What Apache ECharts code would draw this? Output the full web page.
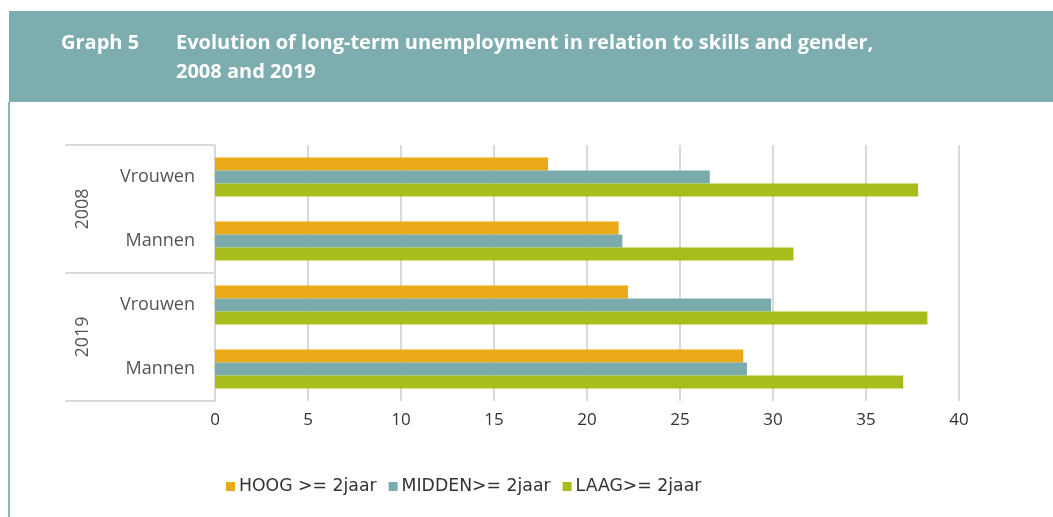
<!DOCTYPE html>
<html>
<head>
<meta charset="utf-8">
<script src="https://cdn.jsdelivr.net/npm/echarts@6/dist/echarts.min.js"></script>
<style>
html,body{margin:0;padding:0;background:#fff;}
#c{width:1053px;height:517px;}
</style>
</head>
<body>
<div id="c"></div>
<script>
var years = ['2008', '2019'];
var genders = ['Vrouwen', 'Mannen', 'Vrouwen', 'Mannen'];
var categoryKeys = ['Vrouwen 2008', 'Mannen 2008', 'Vrouwen 2019', 'Mannen 2019'];
var seriesNames = ['HOOG >= 2jaar', 'MIDDEN>= 2jaar', 'LAAG>= 2jaar'];
var hoog = [17.9, 21.7, 22.2, 28.4];
var midden = [26.6, 21.9, 29.9, 28.6];
var laag = [37.8, 31.1, 38.3, 37.0];
var xTicks = [0, 5, 10, 15, 20, 25, 30, 35, 40];
var titleLabel = 'Graph 5';
var titleLine1 = 'Evolution of long-term unemployment in relation to skills and gender,';
var titleLine2 = '2008 and 2019';

var colors = ['#EBA917', '#7BABAC', '#A8BC1B'];
var FONT = '"Open Sans", "Noto Sans", sans-serif';
var LEGEND_FONT = '"DejaVu Sans", "Open Sans", sans-serif';
var grid = '#d9d9d9';

var chart = echarts.init(document.getElementById('c'), null, {renderer: 'canvas'});
var seriesData = [hoog, midden, laag];
chart.setOption({
  animation: false,
  color: colors,
  textStyle: {fontFamily: FONT},
  graphic: [
    {type: 'rect', left: 9, top: 11, shape: {width: 1044, height: 91}, style: {fill: '#7DADAE'}, silent: true},
    {type: 'rect', left: 8, top: 102, shape: {width: 2, height: 415}, style: {fill: '#8DB6B6'}, silent: true},
    {type: 'text', left: 61, top: 33, style: {text: titleLabel, fill: '#fff', font: 'bold 20px ' + FONT}},
    {type: 'text', left: 176, top: 33, style: {text: titleLine1, fill: '#fff', font: 'bold 20px ' + FONT}},
    {type: 'text', left: 176, top: 62, style: {text: titleLine2, fill: '#fff', font: 'bold 20px ' + FONT}}
  ],
  legend: {
    left: 221, top: 473,
    icon: 'rect', itemWidth: 9, itemHeight: 9, itemGap: 12,
    textStyle: {fontSize: 17.3, color: '#333', fontFamily: LEGEND_FONT, padding: [0,0,0,-1]},
    data: seriesNames
  },
  grid: {left: 215, right: 94, top: 145, bottom: 116, containLabel: false},
  xAxis: {
    type: 'value', min: xTicks[0], max: xTicks[xTicks.length - 1], interval: xTicks[1] - xTicks[0],
    axisLine: {show: false}, axisTick: {show: false},
    axisLabel: {fontSize: 17, color: '#333', margin: 11, fontFamily: FONT},
    splitLine: {show: true, lineStyle: {color: grid, width: 2}}
  },
  yAxis: [
    {
      type: 'category', data: categoryKeys, inverse: true,
      axisLine: {show: true, lineStyle: {color: grid, width: 2}},
      axisTick: {show: false},
      axisLabel: {fontSize: 18, color: '#555', margin: 20, fontFamily: FONT,
        formatter: function (v, i) { return genders[i]; }}
    },
    {
      type: 'category', data: years, inverse: true, position: 'left',
      axisLine: {show: false},
      axisTick: {show: true, length: 150, lineStyle: {color: grid, width: 2}},
      axisLabel: {fontSize: 18, color: '#555', rotate: 90, margin: 123, fontFamily: FONT}
    }
  ],
  series: seriesNames.map(function (n, k) {
    return {
      name: n, type: 'bar', yAxisIndex: 0, data: seriesData[k],
      barWidth: 13, barGap: '0%',
      itemStyle: {color: colors[k]}
    };
  })
});
</script>
</body>
</html>
